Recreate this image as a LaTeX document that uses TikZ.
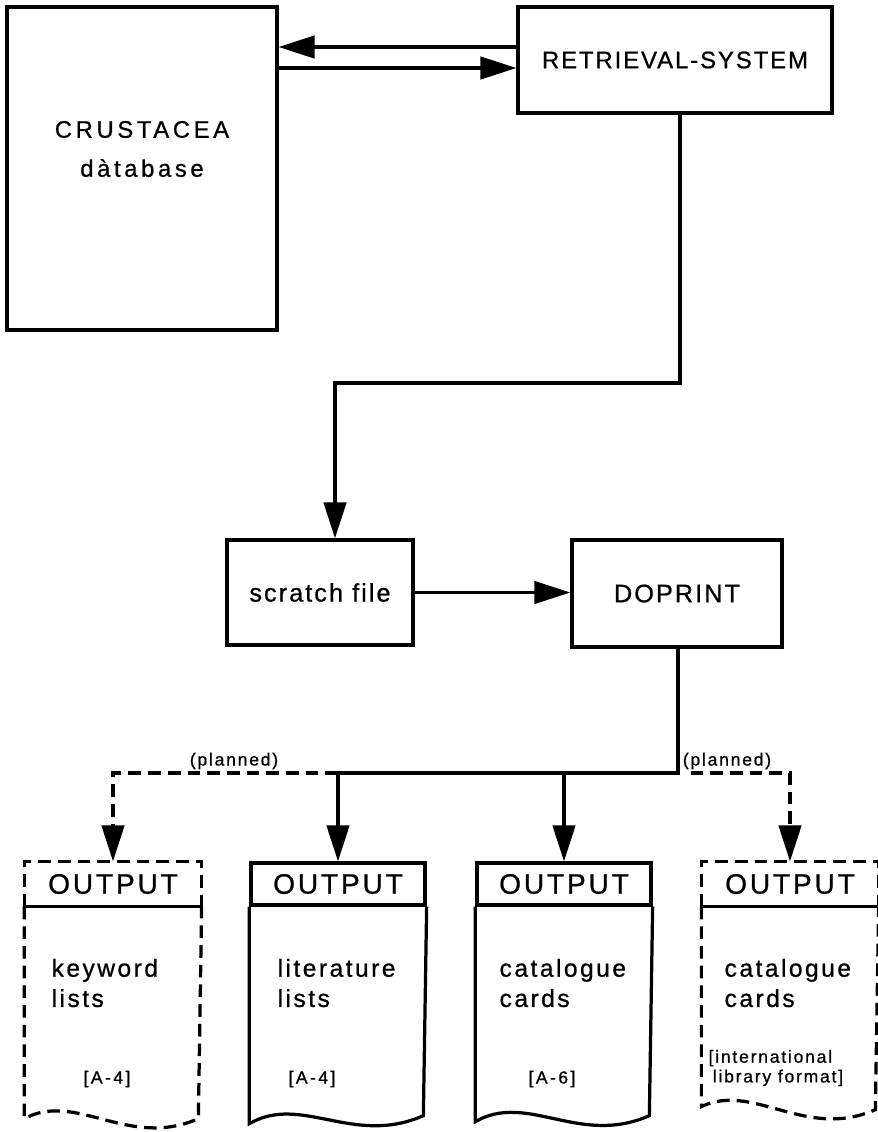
\documentclass[tikz,border=0pt]{standalone}
\usepackage{fontspec}
\setmainfont{Liberation Sans}[LetterSpace=8, FakeBold=0.8]
\usetikzlibrary{arrows.meta, positioning, calc}

\begin{document}
\begin{tikzpicture}[x=0.025cm, y=-0.025cm, line width=2.3pt,
  >={Triangle[length=9mm, width=5.6mm]},
  box/.style={draw, rectangle, inner sep=0pt},
  outhead/.style={rectangle, inner sep=0pt, minimum width=4.35cm, minimum height=1.05cm,
    font=\fontsize{20}{24}\selectfont\addfontfeatures{LetterSpace=10}},
  planline/.style={dash pattern=on 9pt off 5pt},
  bigtxt/.style={font=\fontsize{17}{21}\selectfont},
  bodytxt/.style={align=left, anchor=west, inner sep=0pt,
    font=\fontsize{17.5}{21.5}\selectfont\addfontfeatures{LetterSpace=10}},
  notetxt/.style={inner sep=0pt, font=\fontsize{12.5}{14}\selectfont\addfontfeatures{LetterSpace=14}},
  plantxt/.style={inner sep=0pt, font=\fontsize{12.5}{14}\selectfont\addfontfeatures{LetterSpace=10}}]

\useasboundingbox (0,0) rectangle (878,1132);

% Database and retrieval system
\node[box, minimum width=6.75cm, minimum height=8.075cm] (crust) at (142,168.5) {};
\node[align=center, inner sep=0pt, font=\fontsize{17}{27.7}\selectfont\addfontfeatures{LetterSpace=15}]
  (crusttxt) at (142,149) {CRUSTACEA\\dàtabase};
\node[box, minimum width=7.85cm, minimum height=2.65cm, bigtxt] (ret) at (675,60) {RETRIEVAL-SYSTEM};

\draw[->] (ret.west |- 0,47) -- (crust.east |- 0,47);
\draw[->] (crust.east |- 0,68) -- (ret.west |- 0,68);

% scratch file and DOPRINT
\node[box, minimum width=4.65cm, minimum height=2.625cm, font=\fontsize{18}{22}\selectfont]
  (scr) at (320,592.5) {scratch file};
\node[box, minimum width=5.25cm, minimum height=2.675cm, font=\fontsize{18}{22}\selectfont]
  (dop) at (677,593.5) {DOPRINT};

\draw[->] (ret.south -| 680,0) -- (680,383) -| (scr.north -| 335,0);
\draw[->] (scr.east) -- (scr.east -| dop.west);

% output headers
\node[outhead] (kwh) at (113,884) {OUTPUT};
\node[outhead, draw] (lith) at (338,884) {OUTPUT};
\node[outhead, draw] (cath) at (564,884) {OUTPUT};
\node[outhead] (intlh) at (790,884) {OUTPUT};

% keyword lists (planned, dashed)
\draw[planline] (kwh.south west) -- (kwh.north west) -- (kwh.north east) -- (kwh.south east);
\draw (kwh.south west) -- (kwh.south east);
\draw[planline] (kwh.south west) -- ++(0,212) .. controls +(52,-28) and +(-70,31) .. ++(174,0)
  -- (kwh.south east);

% literature lists
\draw (lith.south west) -- ++(0,217) .. controls +(52,-30) and +(-70,31) .. ++(174,-8)
  -- (lith.south east);

% catalogue cards
\draw (cath.south west) -- ++(0,215) .. controls +(52,-30) and +(-70,31) .. ++(174,-6)
  -- (cath.south east);

% catalogue cards, international format (planned, dashed)
\draw[planline] (intlh.south west) -- (intlh.north west) -- (intlh.north east) -- (intlh.south east);
\draw (intlh.south west) -- (intlh.south east);
\draw[planline] (intlh.south west) -- ++(0,200) .. controls +(52,-25) and +(-70,31) .. ++(174,3)
  -- (intlh.south east);

% texts in the outputs
\node[bodytxt] (kwtxt) at (50,983) {keyword\\lists};
\node[bodytxt] (littxt) at (276,983) {literature\\lists};
\node[bodytxt] (cattxt) at (498,983) {catalogue\\cards};
\node[bodytxt] (intltxt) at (723,983) {catalogue\\cards};

\node[notetxt] (kwsize) at (107,1079) {[A-4]};
\node[notetxt] (litsize) at (312,1079) {[A-4]};
\node[notetxt] (catsize) at (552,1079) {[A-6]};
\node[plantxt, align=left, anchor=west] (intlsize) at (707,1068)
  {[international\\\hspace{3pt}library format]};

% distribution from DOPRINT
\coordinate (split) at (678,773);
\coordinate (litjoin) at (lith.north |- split);
\draw[->] (dop.south -| split) -- (split) -| (lith.north);
\draw[->] (cath.north |- split) -- (cath.north);
\draw[->, planline] (litjoin) -| (kwh.north);
\draw[->, planline] ([xshift=9pt]split) -| (intlh.north);

\node[plantxt] (plan1) at (234,761) {(planned)};
\node[plantxt] (plan2) at (727,761) {(planned)};

\end{tikzpicture}
\end{document}
